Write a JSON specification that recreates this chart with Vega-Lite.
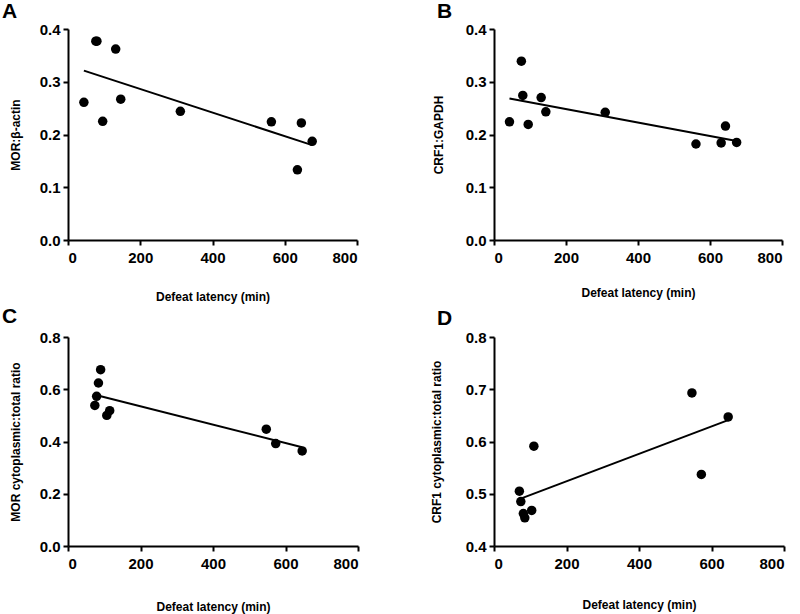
{
  "$schema": "https://vega.github.io/schema/vega-lite/v6.json",
  "background": "white",
  "padding": {"left": 2, "top": 1, "right": 5, "bottom": 2},
  "datasets": {
    "a": [
      {"latency": 44, "ratio": 0.261},
      {"latency": 77, "ratio": 0.377},
      {"latency": 80, "ratio": 0.377},
      {"latency": 96, "ratio": 0.225},
      {"latency": 132, "ratio": 0.362},
      {"latency": 146, "ratio": 0.267},
      {"latency": 311, "ratio": 0.244},
      {"latency": 563, "ratio": 0.224},
      {"latency": 635, "ratio": 0.133},
      {"latency": 646, "ratio": 0.222},
      {"latency": 676, "ratio": 0.187}
    ],
    "b": [
      {"latency": 43, "ratio": 0.224},
      {"latency": 76, "ratio": 0.339},
      {"latency": 80, "ratio": 0.274},
      {"latency": 95, "ratio": 0.219},
      {"latency": 131, "ratio": 0.27},
      {"latency": 144, "ratio": 0.243},
      {"latency": 309, "ratio": 0.242},
      {"latency": 561, "ratio": 0.182},
      {"latency": 631, "ratio": 0.184},
      {"latency": 643, "ratio": 0.216},
      {"latency": 674, "ratio": 0.185}
    ],
    "c": [
      {"latency": 74, "ratio": 0.538},
      {"latency": 79, "ratio": 0.573},
      {"latency": 84, "ratio": 0.624},
      {"latency": 90, "ratio": 0.675},
      {"latency": 107, "ratio": 0.5},
      {"latency": 115, "ratio": 0.518},
      {"latency": 547, "ratio": 0.447},
      {"latency": 573, "ratio": 0.392},
      {"latency": 646, "ratio": 0.364}
    ],
    "d": [
      {"latency": 70, "ratio": 0.505},
      {"latency": 74, "ratio": 0.485},
      {"latency": 81, "ratio": 0.462},
      {"latency": 85, "ratio": 0.454},
      {"latency": 104, "ratio": 0.468},
      {"latency": 110, "ratio": 0.591},
      {"latency": 546, "ratio": 0.693},
      {"latency": 572, "ratio": 0.537},
      {"latency": 646, "ratio": 0.647}
    ]
  },
  "columns": 2,
  "spacing": {"row": 4, "column": 71},
  "concat": [
    {
      "title": {"text": "A", "anchor": "start", "frame": "group", "dx": -66, "offset": 0},
      "width": 289,
      "height": 211,
      "data": {"name": "a"},
      "encoding": {
        "x": {"field": "latency", "type": "quantitative", "scale": {"domain": [0, 800]},
              "axis": {"title": "Defeat latency (min)", "values": [0, 200, 400, 600, 800], "titlePadding": 26}},
        "y": {"field": "ratio", "type": "quantitative", "scale": {"domain": [0, 0.4]},
              "axis": {"title": "MOR:β-actin", "values": [0, 0.1, 0.2, 0.3, 0.4], "format": ".1f", "titlePadding": 17}}
      },
      "layer": [
        {"mark": {"type": "circle", "size": 90, "color": "black", "opacity": 1}},
        {"transform": [{"regression": "ratio", "on": "latency"}],
         "mark": {"type": "line", "color": "black", "strokeWidth": 2}}
      ]
    },
    {
      "title": {"text": "B", "anchor": "start", "frame": "group", "dx": -57, "offset": 0},
      "width": 288,
      "height": 211,
      "data": {"name": "b"},
      "encoding": {
        "x": {"field": "latency", "type": "quantitative", "scale": {"domain": [0, 800]},
              "axis": {"title": "Defeat latency (min)", "values": [0, 200, 400, 600, 800], "titlePadding": 22}},
        "y": {"field": "ratio", "type": "quantitative", "scale": {"domain": [0, 0.4]},
              "axis": {"title": "CRF1:GAPDH", "values": [0, 0.1, 0.2, 0.3, 0.4], "format": ".1f", "titlePadding": 20}}
      },
      "layer": [
        {"mark": {"type": "circle", "size": 90, "color": "black", "opacity": 1}},
        {"transform": [{"regression": "ratio", "on": "latency"}],
         "mark": {"type": "line", "color": "black", "strokeWidth": 2}}
      ]
    },
    {
      "title": {"text": "C", "anchor": "start", "frame": "group", "dx": -66, "offset": 3},
      "width": 290,
      "height": 209,
      "data": {"name": "c"},
      "encoding": {
        "x": {"field": "latency", "type": "quantitative", "scale": {"domain": [0, 800]},
              "axis": {"title": "Defeat latency (min)", "values": [0, 200, 400, 600, 800], "titlePadding": 30}},
        "y": {"field": "ratio", "type": "quantitative", "scale": {"domain": [0, 0.8]},
              "axis": {"title": "MOR cytoplasmic:total ratio", "values": [0, 0.2, 0.4, 0.6, 0.8], "format": ".1f", "titlePadding": 17}}
      },
      "layer": [
        {"mark": {"type": "circle", "size": 90, "color": "black", "opacity": 1}},
        {"transform": [{"regression": "ratio", "on": "latency"}],
         "mark": {"type": "line", "color": "black", "strokeWidth": 2}}
      ]
    },
    {
      "title": {"text": "D", "anchor": "start", "frame": "group", "dx": -57, "offset": 1},
      "width": 290,
      "height": 209,
      "data": {"name": "d"},
      "encoding": {
        "x": {"field": "latency", "type": "quantitative", "scale": {"domain": [0, 800]},
              "axis": {"title": "Defeat latency (min)", "values": [0, 200, 400, 600, 800], "titlePadding": 28}},
        "y": {"field": "ratio", "type": "quantitative", "scale": {"domain": [0.4, 0.8], "zero": false},
              "axis": {"title": "CRF1 cytoplasmic:total ratio", "values": [0.4, 0.5, 0.6, 0.7, 0.8], "format": ".1f", "titlePadding": 22}}
      },
      "layer": [
        {"mark": {"type": "circle", "size": 90, "color": "black", "opacity": 1}},
        {"transform": [{"regression": "ratio", "on": "latency"}],
         "mark": {"type": "line", "color": "black", "strokeWidth": 2}}
      ]
    }
  ],
  "config": {
    "view": {"stroke": null},
    "font": "Liberation Sans",
    "title": {"fontSize": 21, "fontWeight": "bold", "color": "black", "font": "Liberation Sans"},
    "axis": {
      "grid": false,
      "domainColor": "black",
      "domainWidth": 2,
      "tickColor": "black",
      "tickWidth": 2,
      "tickSize": 5,
      "labelFont": "Liberation Sans",
      "labelFontSize": 15,
      "labelFontWeight": "bold",
      "labelColor": "black",
      "titleFont": "Liberation Sans",
      "titleFontSize": 12,
      "titleFontWeight": "bold",
      "titleColor": "black"
    },
    "axisX": {"labelPadding": 5},
    "axisY": {"labelPadding": 3}
  }
}
